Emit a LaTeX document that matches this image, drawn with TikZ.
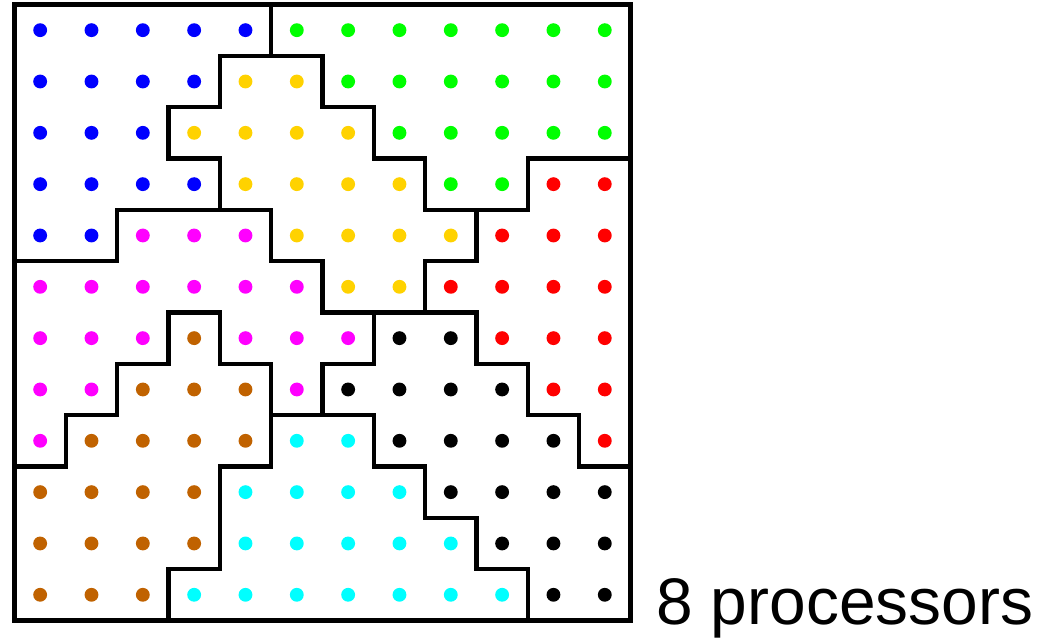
\documentclass[tikz,border=0pt]{standalone}
\usepackage{fontspec}
\setmainfont{Liberation Sans}
\definecolor{dotB}{RGB}{0,0,255}
\definecolor{dotG}{RGB}{0,255,0}
\definecolor{dotY}{RGB}{255,210,0}
\definecolor{dotR}{RGB}{255,0,0}
\definecolor{dotM}{RGB}{255,0,255}
\definecolor{dotN}{RGB}{192,98,0}
\definecolor{dotC}{RGB}{0,255,255}
\definecolor{dotK}{RGB}{0,0,0}
\begin{document}
\begin{tikzpicture}[y = -1cm, line width = 2.3pt, line join = miter]
    \useasboundingbox (-0.2825,-0.0877) rectangle (19.94,12.342);
    \foreach \row/\cols in {0/{B,B,B,B,B,G,G,G,G,G,G,G},
                            1/{B,B,B,B,Y,Y,G,G,G,G,G,G},
                            2/{B,B,B,Y,Y,Y,Y,G,G,G,G,G},
                            3/{B,B,B,B,Y,Y,Y,Y,G,G,R,R},
                            4/{B,B,M,M,M,Y,Y,Y,Y,R,R,R},
                            5/{M,M,M,M,M,M,Y,Y,R,R,R,R},
                            6/{M,M,M,N,M,M,M,K,K,R,R,R},
                            7/{M,M,N,N,N,M,K,K,K,K,R,R},
                            8/{M,N,N,N,N,C,C,K,K,K,K,R},
                            9/{N,N,N,N,C,C,C,C,K,K,K,K},
                            10/{N,N,N,N,C,C,C,C,C,K,K,K},
                            11/{N,N,N,C,C,C,C,C,C,C,K,K}} {
        \foreach \c [count = \i from 0] in \cols {
            \fill[dot\c] (\i + 0.5, \row + 0.5) circle (0.135);
        }
    }
    % processor regions
    \draw (0,0) -- (5,0) -- (5,1) -- (4,1) -- (4,2) -- (3,2) -- (3,3) -- (4,3) -- (4,4) -- (2,4) -- (2,5) -- (0,5) -- cycle;
    \draw (5,0) -- (12,0) -- (12,3) -- (10,3) -- (10,4) -- (8,4) -- (8,3) -- (7,3) -- (7,2) -- (6,2) -- (6,1) -- (5,1) -- cycle;
    \draw (4,1) -- (6,1) -- (6,2) -- (7,2) -- (7,3) -- (8,3) -- (8,4) -- (9,4) -- (9,5) -- (8,5) -- (8,6) -- (6,6) -- (6,5) -- (5,5) -- (5,4) -- (4,4) -- (4,3) -- (3,3) -- (3,2) -- (4,2) -- cycle;
    \draw (10,3) -- (12,3) -- (12,9) -- (11,9) -- (11,8) -- (10,8) -- (10,7) -- (9,7) -- (9,6) -- (8,6) -- (8,5) -- (9,5) -- (9,4) -- (10,4) -- cycle;
    \draw (2,4) -- (5,4) -- (5,5) -- (6,5) -- (6,6) -- (7,6) -- (7,7) -- (6,7) -- (6,8) -- (5,8) -- (5,7) -- (4,7) -- (4,6) -- (3,6) -- (3,7) -- (2,7) -- (2,8) -- (1,8) -- (1,9) -- (0,9) -- (0,5) -- (2,5) -- cycle;
    \draw (3,6) -- (4,6) -- (4,7) -- (5,7) -- (5,9) -- (4,9) -- (4,11) -- (3,11) -- (3,12) -- (0,12) -- (0,9) -- (1,9) -- (1,8) -- (2,8) -- (2,7) -- (3,7) -- cycle;
    \draw (5,8) -- (7,8) -- (7,9) -- (8,9) -- (8,10) -- (9,10) -- (9,11) -- (10,11) -- (10,12) -- (3,12) -- (3,11) -- (4,11) -- (4,9) -- (5,9) -- cycle;
    \draw (7,6) -- (9,6) -- (9,7) -- (10,7) -- (10,8) -- (11,8) -- (11,9) -- (12,9) -- (12,12) -- (10,12) -- (10,11) -- (9,11) -- (9,10) -- (8,10) -- (8,9) -- (7,9) -- (7,8) -- (6,8) -- (6,7) -- (7,7) -- cycle;
    \draw[line width = 2.8pt] (0,0) rectangle (12,12);
    \node[anchor = base west, inner sep = 0pt, font = \fontsize{36.5}{40}\selectfont] (caption) at (12.46,12.07) {8 processors};
\end{tikzpicture}
\end{document}
